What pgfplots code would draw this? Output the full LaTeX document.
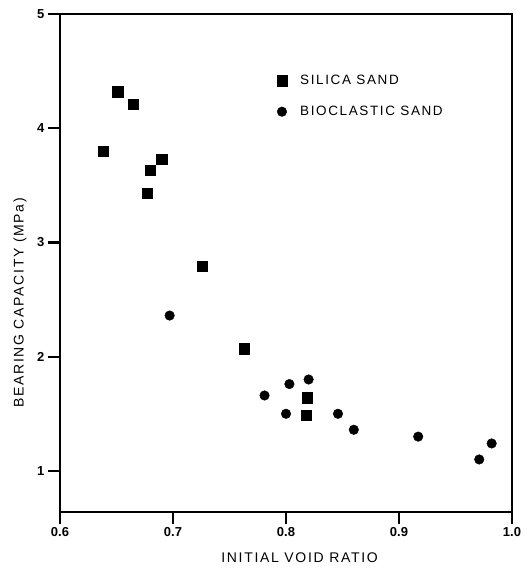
\documentclass[border=0pt]{standalone}
\usepackage{pgfplots}
\pgfplotsset{compat=1.18}
\usepackage{fontspec}
\setmainfont{Liberation Sans}
\newfontfamily\spaced[LetterSpace=12]{Liberation Sans}
\begin{document}
\begin{tikzpicture}
\begin{axis}[
  scale only axis, width=452pt, height=498pt,
  xmin=0.6, xmax=1.0, ymin=0.64, ymax=5,
  xtick={0.6,0.7,0.8,0.9,1.0}, xticklabels={0.6,0.7,0.8,0.9,1.0},
  ytick={1,2,3,4,5},
  tickpos=left,
  tick align=outside, major tick length=12pt,
  major tick style={line width=2.2pt, black},
  axis line style={line width=2pt, black},
  /pgf/number format/assume math mode=true,
  tick label style={font=\fontsize{13}{15}\selectfont\bfseries},
  xlabel={\spaced INITIAL VOID RATIO},
  ylabel={\spaced BEARING CAPACITY (MPa)},
  label style={font=\fontsize{14}{16}\selectfont},
  xlabel style={at={([yshift=-46pt]axis description cs:0.53,0)}, anchor=center},
  ylabel style={at={([xshift=-40pt]axis description cs:0,0.42)}, anchor=center},
  legend style={at={(axis cs:0.789,4.50)}, anchor=north west, draw=none, fill=none,
    font=\fontsize{13.5}{15}\selectfont\spaced, row sep=16pt, column sep=11pt,
    cells={anchor=west}},
  legend cell align=left,
]
\addplot[only marks, mark=square*, mark size=5.2pt, black, line width=0.4pt] coordinates {
  (0.651,4.32) (0.665,4.21) (0.638,3.80) (0.690,3.73) (0.680,3.63)
  (0.677,3.43) (0.726,2.79) (0.763,2.07) (0.819,1.64) (0.818,1.49)
};
\addlegendentry{SILICA SAND}
\addplot[only marks, mark=*, mark size=4.8pt, black, line width=0.4pt] coordinates {
  (0.697,2.36) (0.781,1.66) (0.803,1.76) (0.820,1.80) (0.800,1.50)
  (0.846,1.50) (0.860,1.36) (0.917,1.30) (0.971,1.10) (0.982,1.24)
};
\addlegendentry{BIOCLASTIC SAND}
\end{axis}
\pgfresetboundingbox
\path[use as bounding box] ([shift={(-60pt,-63pt)}]current axis.south west) rectangle ([shift={(19pt,14pt)}]current axis.north east);
\end{tikzpicture}
\end{document}
